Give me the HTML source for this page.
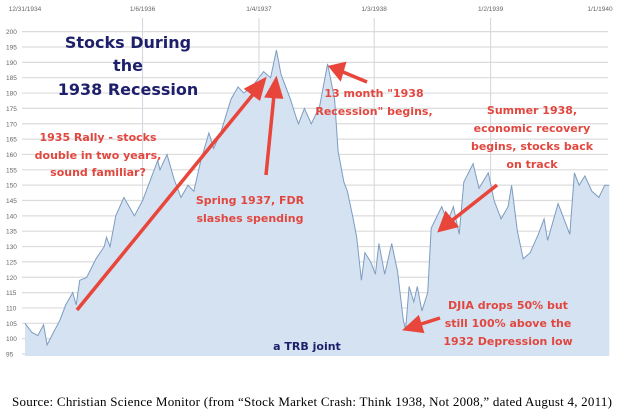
<!DOCTYPE html>
<html><head><meta charset="utf-8"><style>
html,body{margin:0;padding:0;background:#fff;width:624px;height:420px;overflow:hidden}
svg{display:block}
.ann{font-family:"DejaVu Sans","Liberation Sans",sans-serif;font-weight:bold;fill:#e2473f;font-size:11px;text-anchor:middle}
.ttl{font-family:"DejaVu Sans","Liberation Sans",sans-serif;font-weight:bold;fill:#1d1f6b;font-size:16px;text-anchor:middle}
.tk{font-family:"Liberation Sans",sans-serif;font-size:6.5px;fill:#666}
</style></head><body>
<svg id="chart" width="624" height="420" xmlns="http://www.w3.org/2000/svg">
<g id="grid"></g>
<path id="area" fill="#d5e2f1" stroke="none"></path>
<path id="line" fill="none" stroke="#7d9cc0" stroke-width="1"></path>
<g id="labels"></g>
<g>
<text class="ttl" x="128" y="48">Stocks During</text>
<text class="ttl" x="128" y="71">the</text>
<text class="ttl" x="128" y="95">1938 Recession</text>
</g>
<g>
<text class="ann" x="98" y="141">1935 Rally - stocks</text>
<text class="ann" x="98" y="159">double in two years,</text>
<text class="ann" x="98" y="176">sound familiar?</text>
</g>
<g>
<text class="ann" x="250" y="204">Spring 1937, FDR</text>
<text class="ann" x="250" y="222">slashes spending</text>
</g>
<g>
<text class="ann" x="374" y="97">13 month "1938</text>
<text class="ann" x="374" y="115">Recession" begins,</text>
</g>
<g>
<text class="ann" x="532" y="114">Summer 1938,</text>
<text class="ann" x="532" y="132">economic recovery</text>
<text class="ann" x="532" y="150">begins, stocks back</text>
<text class="ann" x="532" y="168">on track</text>
</g>
<g>
<text class="ann" x="508" y="309">DJIA drops 50% but</text>
<text class="ann" x="508" y="327">still 100% above the</text>
<text class="ann" x="508" y="345">1932 Depression low</text>
</g>
<text x="307" y="350" style="font-family:'DejaVu Sans',sans-serif;font-weight:bold;font-size:11px;fill:#1d1f6b;text-anchor:middle">a TRB joint</text>
<g stroke="#e8453b" stroke-width="3.5" fill="#e8453b">
<line x1="77" y1="310" x2="255" y2="92"/><polygon points="264,80 247,89 259,98"/>
<line x1="266" y1="175" x2="274" y2="95"/><polygon points="276,80 267,96 281,97"/>
<line x1="367" y1="82" x2="343" y2="72"/><polygon points="331,67 344,64 340,78"/>
<line x1="497" y1="185" x2="450" y2="222"/><polygon points="440,230 446,214 456,226"/>
<line x1="440" y1="318" x2="418" y2="325"/><polygon points="406,329 418,318 422,331"/>
</g>
<text x="312" y="406" style="font-family:'Liberation Serif',serif;font-size:13px;fill:#000;text-anchor:middle" textLength="600">Source: Christian Science Monitor (from “Stock Market Crash: Think 1938, Not 2008,” dated August 4, 2011)</text>
</svg>
<script>
const years = [1935.00,1935.06,1935.11,1935.16,1935.19,1935.23,1935.30,1935.35,1935.41,1935.44,1935.47,1935.53,1935.61,1935.68,1935.70,1935.73,1935.78,1935.85,1935.94,1936.01,1936.06,1936.14,1936.16,1936.22,1936.28,1936.34,1936.40,1936.45,1936.51,1936.58,1936.62,1936.68,1936.77,1936.83,1936.88,1936.97,1937.05,1937.11,1937.16,1937.20,1937.28,1937.33,1937.35,1937.40,1937.46,1937.53,1937.60,1937.66,1937.69,1937.74,1937.77,1937.82,1937.85,1937.89,1937.92,1937.97,1938.01,1938.04,1938.09,1938.15,1938.20,1938.25,1938.27,1938.30,1938.34,1938.37,1938.41,1938.46,1938.49,1938.58,1938.63,1938.68,1938.73,1938.77,1938.85,1938.90,1938.98,1939.03,1939.09,1939.15,1939.18,1939.23,1939.28,1939.34,1939.41,1939.46,1939.49,1939.58,1939.65,1939.68,1939.72,1939.76,1939.81,1939.87,1939.93,1939.98,1940.02];
const values = [105,102,101,104.5,98,101,106,111,115,111,119,120,126,130,133,130,140,146,140,145,150,158,155,160,152,146,150,148,158,167,162,167,178,182,180,183,187,185,194,186,178,172,170,175,170,175.5,189.5,178,161,151,148,139,133,119,128,125,121,131,121,131,122,106,103,117,112,117,109,115,136,143,138,143,134,151,157,149,154,145,139,143,150,135,126,128,134,139,132,144,137,134,154,150,153,148,146,150,150];
const yTicks = [95,100,105,110,115,120,125,130,135,140,145,150,155,160,165,170,175,180,185,190,195,200];
const xTickYears = [1935,1936.01,1937.01,1938.0,1939.0,1940.0];
const xTickLabels = ["12/31/1934","1/6/1936","1/4/1937","1/3/1938","1/2/1939","1/1/1940"];
const X = t => 25 + (t - 1935) * 116.4;
const Y = v => 354 - (v - 95) * 3.07;
const NS = "http://www.w3.org/2000/svg";
const grid = document.getElementById('grid'), labels = document.getElementById('labels');
yTicks.forEach(v => {
  const l = document.createElementNS(NS,'line');
  l.setAttribute('x1',22); l.setAttribute('x2',608); l.setAttribute('y1',Y(v)); l.setAttribute('y2',Y(v));
  l.setAttribute('stroke','#dcdcdc'); l.setAttribute('stroke-width','1.2');
  
  
  grid.appendChild(l);
  const t = document.createElementNS(NS,'text');
  t.setAttribute('x',6); t.setAttribute('y',Y(v)+2.5); t.setAttribute('class','tk'); t.textContent = v;
  
  
  labels.appendChild(t);
});
xTickYears.forEach((yr,i) => {
  const l = document.createElementNS(NS,'line');
  l.setAttribute('x1',X(yr)); l.setAttribute('x2',X(yr)); l.setAttribute('y1',18); l.setAttribute('y2',354);
  l.setAttribute('stroke','#d0d6de'); l.setAttribute('stroke-width','1');
  
  
  if (i>0 && i<5) grid.appendChild(l);
  const t = document.createElementNS(NS,'text');
  t.setAttribute('x',Math.min(X(yr),600)); t.setAttribute('y',11); t.setAttribute('class','tk');
  t.setAttribute('text-anchor','middle'); t.textContent = xTickLabels[i];
  
  
  labels.appendChild(t);
});
let d = values.map((v,i)=>(i?'L':'M')+X(years[i]).toFixed(1)+' '+Y(v).toFixed(1)).join(' ');
document.getElementById('line').setAttribute('d', d);
document.getElementById('area').setAttribute('d', d + ' L'+X(years[years.length-1]).toFixed(1)+' 356 L'+X(years[0]).toFixed(1)+' 356 Z');
</script>
</body></html>
